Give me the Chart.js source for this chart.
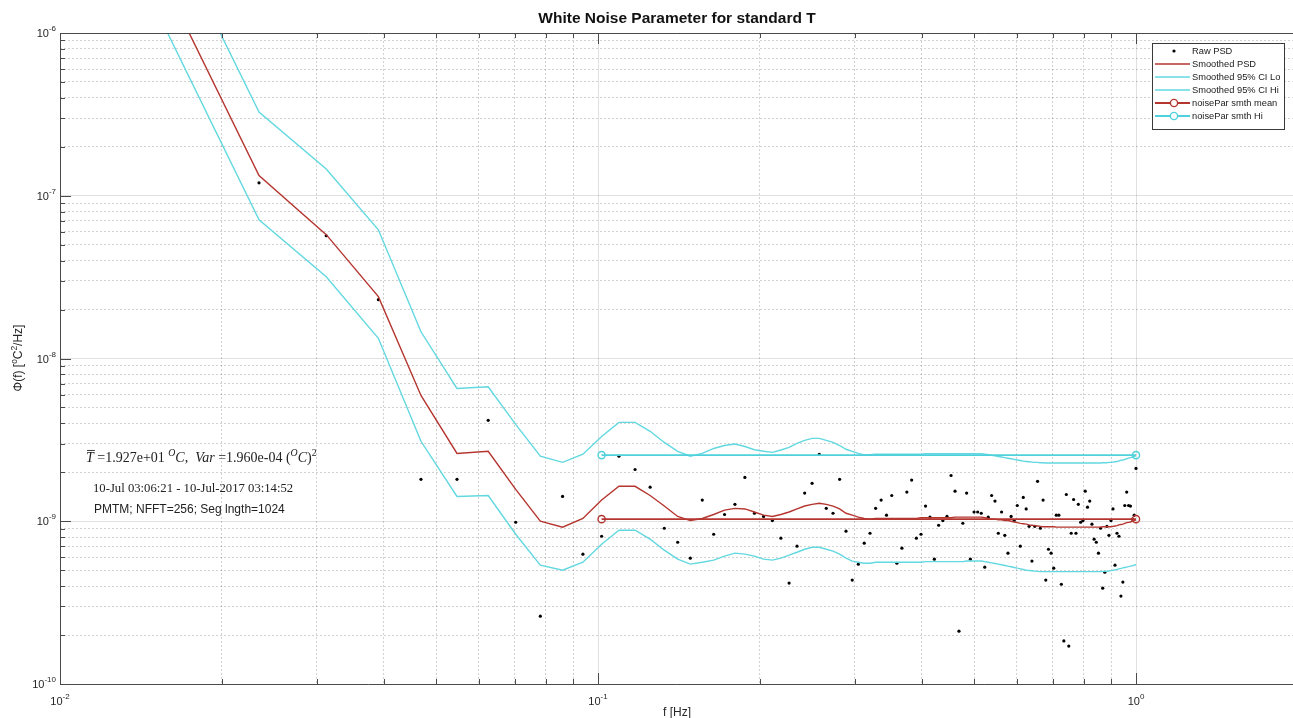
<!DOCTYPE html>
<html>
<head>
<meta charset="utf-8">
<title>White Noise Parameter for standard T</title>
<script src="https://cdn.jsdelivr.net/npm/chart.js@4.4.1/dist/chart.umd.min.js"></script>
<style>
  html, body { margin: 0; padding: 0; background: #fff; }
  #psd { display: block; }
</style>
</head>
<body>
<canvas id="psd" width="1293" height="718"></canvas>
<script>
// === psd plot ===
// PSD of temperature with smoothed estimate, 95% CI and white noise level

// frequency bins [Hz] (NFFT=256, bins 2..128)
const freqHz = [
  0.015625, 0.023438, 0.03125, 0.039063, 0.046875, 0.054688, 0.0625, 0.070313, 0.078125, 0.085938,
  0.09375, 0.10156, 0.10938, 0.11719, 0.125, 0.13281, 0.14063, 0.14844, 0.15625, 0.16406,
  0.17188, 0.17969, 0.1875, 0.19531, 0.20313, 0.21094, 0.21875, 0.22656, 0.23438, 0.24219,
  0.25, 0.25781, 0.26563, 0.27344, 0.28125, 0.28906, 0.29688, 0.30469, 0.3125, 0.32031,
  0.32813, 0.33594, 0.34375, 0.35156, 0.35938, 0.36719, 0.375, 0.38281, 0.39063, 0.39844,
  0.40625, 0.41406, 0.42188, 0.42969, 0.4375, 0.44531, 0.45313, 0.46094, 0.46875, 0.47656,
  0.48438, 0.49219, 0.5, 0.50781, 0.51563, 0.52344, 0.53125, 0.53906, 0.54688, 0.55469,
  0.5625, 0.57031, 0.57813, 0.58594, 0.59375, 0.60156, 0.60938, 0.61719, 0.625, 0.63281,
  0.64063, 0.64844, 0.65625, 0.66406, 0.67188, 0.67969, 0.6875, 0.69531, 0.70313, 0.71094,
  0.71875, 0.72656, 0.73438, 0.74219, 0.75, 0.75781, 0.76563, 0.77344, 0.78125, 0.78906,
  0.79688, 0.80469, 0.8125, 0.82031, 0.82813, 0.83594, 0.84375, 0.85156, 0.85938, 0.86719,
  0.875, 0.88281, 0.89063, 0.89844, 0.90625, 0.91406, 0.92188, 0.92969, 0.9375, 0.94531,
  0.95313, 0.96094, 0.96875, 0.97656, 0.98438, 0.99219, 1
];

// raw periodogram [degC^2/Hz]
const psdRaw = [
  null, 1.20e-7, 5.68e-8, 2.30e-8, 1.81e-9, 1.81e-9, 4.17e-9, 9.86e-10, 2.61e-10, 1.42e-9,
  6.28e-10, 8.09e-10, 2.51e-9, 2.08e-9, 1.62e-9, 9.06e-10, 7.43e-10, 5.93e-10, 1.35e-9, 8.32e-10,
  1.10e-9, 1.27e-9, 1.86e-9, 1.12e-9, 1.07e-9, 1.01e-9, 7.87e-10, 4.17e-10, 7.03e-10, 1.49e-9,
  1.71e-9, 2.58e-9, 1.20e-9, 1.12e-9, 1.81e-9, 8.69e-10, 4.35e-10, 5.45e-10, 7.33e-10, 8.44e-10,
  1.20e-9, 1.35e-9, 1.09e-9, 1.44e-9, 5.52e-10, 6.83e-10, 1.51e-9, 1.79e-9, 7.87e-10, 8.32e-10,
  1.24e-9, 1.06e-9, 5.85e-10, 9.45e-10, 1.01e-9, 1.07e-9, 1.91e-9, 1.53e-9, 2.11e-10, 9.72e-10,
  1.49e-9, 5.85e-10, 1.14e-9, 1.14e-9, 1.12e-9, 5.22e-10, 1.06e-9, 1.44e-9, 1.33e-9, 8.44e-10,
  1.14e-9, 8.20e-10, 6.37e-10, 1.07e-9, 1.01e-9, 1.25e-9, 7.03e-10, 1.40e-9, 1.19e-9, 9.31e-10,
  5.69e-10, 9.31e-10, 1.76e-9, 9.06e-10, 1.35e-9, 4.35e-10, 6.73e-10, 6.37e-10, 5.15e-10, 1.09e-9,
  1.09e-9, 4.10e-10, 1.84e-10, 1.46e-9, 1.71e-10, 8.44e-10, 1.36e-9, 8.44e-10, 1.27e-9, 9.86e-10,
  1.01e-9, 1.53e-9, 1.22e-9, 1.33e-9, 9.59e-10, 7.76e-10, 7.43e-10, 6.37e-10, 9.06e-10, 3.88e-10,
  4.86e-10, 9.31e-10, 8.20e-10, 1.01e-9, 1.19e-9, 5.37e-10, 8.44e-10, 8.09e-10, 3.47e-10, 4.23e-10,
  1.25e-9, 1.51e-9, 1.25e-9, 1.24e-9, 1.03e-9, 1.09e-9, 2.11e-9
];

// smoothed PSD
const psdSmooth = [
  2.05e-6, 1.33e-7, 5.77e-8, 2.40e-8, 5.93e-9, 2.61e-9, 2.69e-9, 1.57e-9, 1.00e-9, 9.2e-10,
  1.04e-9, 1.35e-9, 1.64e-9, 1.64e-9, 1.44e-9, 1.24e-9, 1.07e-9, 1.01e-9, 1.04e-9, 1.10e-9,
  1.17e-9, 1.20e-9, 1.19e-9, 1.14e-9, 1.09e-9, 1.07e-9, 1.10e-9, 1.14e-9, 1.19e-9, 1.24e-9,
  1.27e-9, 1.29e-9, 1.27e-9, 1.24e-9, 1.19e-9, 1.12e-9, 1.09e-9, 1.06e-9, 1.04e-9, 1.03e-9,
  1.04e-9, 1.04e-9, 1.04e-9, 1.04e-9, 1.04e-9, 1.04e-9, 1.04e-9, 1.04e-9, 1.04e-9, 1.05e-9,
  1.05e-9, 1.05e-9, 1.05e-9, 1.05e-9, 1.05e-9, 1.05e-9, 1.05e-9, 1.06e-9, 1.06e-9, 1.06e-9,
  1.06e-9, 1.06e-9, 1.06e-9, 1.06e-9, 1.06e-9, 1.05e-9, 1.04e-9, 1.03e-9, 1.03e-9, 1.02e-9,
  1.02e-9, 1.01e-9, 1.01e-9, 1.00e-9, 9.9e-10, 9.8e-10, 9.7e-10, 9.65e-10, 9.6e-10, 9.5e-10,
  9.45e-10, 9.4e-10, 9.35e-10, 9.3e-10, 9.25e-10, 9.25e-10, 9.25e-10, 9.25e-10, 9.25e-10, 9.2e-10,
  9.2e-10, 9.2e-10, 9.2e-10, 9.2e-10, 9.2e-10, 9.2e-10, 9.2e-10, 9.2e-10, 9.2e-10, 9.2e-10,
  9.2e-10, 9.2e-10, 9.2e-10, 9.2e-10, 9.2e-10, 9.2e-10, 9.2e-10, 9.2e-10, 9.2e-10, 9.25e-10,
  9.25e-10, 9.25e-10, 9.25e-10, 9.25e-10, 9.3e-10, 9.35e-10, 9.4e-10, 9.5e-10, 9.55e-10, 9.6e-10,
  9.7e-10, 9.8e-10, 9.85e-10, 9.9e-10, 1.00e-9, 1.01e-9, 1.02e-9
];

// smoothed 95% confidence interval, lower bound
const ciLo = [
  1.1e-6, 7.12e-8, 3.18e-8, 1.33e-8, 3.10e-9, 1.42e-9, 1.44e-9, 8.32e-10, 5.37e-10, 5.00e-10,
  5.60e-10, 7.23e-10, 8.81e-10, 8.81e-10, 7.76e-10, 6.64e-10, 5.85e-10, 5.45e-10, 5.60e-10, 5.77e-10,
  6.10e-10, 6.37e-10, 6.28e-10, 6.10e-10, 5.85e-10, 5.77e-10, 5.93e-10, 6.19e-10, 6.45e-10, 6.73e-10,
  6.92e-10, 6.92e-10, 6.73e-10, 6.55e-10, 6.28e-10, 5.93e-10, 5.69e-10, 5.60e-10, 5.52e-10, 5.52e-10,
  5.6e-10, 5.6e-10, 5.6e-10, 5.6e-10, 5.6e-10, 5.6e-10, 5.6e-10, 5.6e-10, 5.6e-10, 5.6e-10,
  5.65e-10, 5.65e-10, 5.65e-10, 5.65e-10, 5.65e-10, 5.65e-10, 5.65e-10, 5.65e-10, 5.65e-10, 5.65e-10,
  5.7e-10, 5.7e-10, 5.7e-10, 5.7e-10, 5.7e-10, 5.65e-10, 5.6e-10, 5.55e-10, 5.5e-10, 5.45e-10,
  5.4e-10, 5.35e-10, 5.3e-10, 5.25e-10, 5.2e-10, 5.15e-10, 5.1e-10, 5.05e-10, 5.0e-10, 4.98e-10,
  4.96e-10, 4.94e-10, 4.92e-10, 4.9e-10, 4.9e-10, 4.9e-10, 4.9e-10, 4.9e-10, 4.9e-10, 4.9e-10,
  4.9e-10, 4.9e-10, 4.9e-10, 4.9e-10, 4.9e-10, 4.9e-10, 4.9e-10, 4.9e-10, 4.9e-10, 4.9e-10,
  4.9e-10, 4.9e-10, 4.9e-10, 4.9e-10, 4.9e-10, 4.9e-10, 4.9e-10, 4.9e-10, 4.9e-10, 4.92e-10,
  4.92e-10, 4.93e-10, 4.95e-10, 4.97e-10, 5.0e-10, 5.03e-10, 5.06e-10, 5.1e-10, 5.13e-10, 5.17e-10,
  5.2e-10, 5.23e-10, 5.26e-10, 5.3e-10, 5.33e-10, 5.37e-10, 5.4e-10
];

// smoothed 95% confidence interval, upper bound
const ciHi = [
  5.0e-6, 3.27e-7, 1.46e-7, 6.18e-8, 1.46e-8, 6.55e-9, 6.70e-9, 3.94e-9, 2.51e-9, 2.30e-9,
  2.58e-9, 3.32e-9, 4.05e-9, 4.05e-9, 3.57e-9, 3.05e-9, 2.69e-9, 2.51e-9, 2.61e-9, 2.80e-9,
  2.92e-9, 2.98e-9, 2.88e-9, 2.75e-9, 2.69e-9, 2.65e-9, 2.74e-9, 2.84e-9, 3.01e-9, 3.14e-9,
  3.23e-9, 3.23e-9, 3.14e-9, 3.05e-9, 2.92e-9, 2.77e-9, 2.69e-9, 2.61e-9, 2.56e-9, 2.56e-9,
  2.58e-9, 2.58e-9, 2.58e-9, 2.58e-9, 2.58e-9, 2.58e-9, 2.58e-9, 2.58e-9, 2.58e-9, 2.58e-9,
  2.6e-9, 2.6e-9, 2.6e-9, 2.6e-9, 2.6e-9, 2.6e-9, 2.6e-9, 2.6e-9, 2.6e-9, 2.6e-9,
  2.6e-9, 2.6e-9, 2.6e-9, 2.6e-9, 2.6e-9, 2.58e-9, 2.56e-9, 2.54e-9, 2.52e-9, 2.50e-9,
  2.48e-9, 2.46e-9, 2.44e-9, 2.42e-9, 2.40e-9, 2.38e-9, 2.36e-9, 2.34e-9, 2.33e-9, 2.32e-9,
  2.31e-9, 2.30e-9, 2.30e-9, 2.29e-9, 2.29e-9, 2.28e-9, 2.28e-9, 2.28e-9, 2.28e-9, 2.28e-9,
  2.28e-9, 2.28e-9, 2.28e-9, 2.28e-9, 2.28e-9, 2.28e-9, 2.28e-9, 2.28e-9, 2.28e-9, 2.28e-9,
  2.28e-9, 2.28e-9, 2.28e-9, 2.28e-9, 2.28e-9, 2.28e-9, 2.28e-9, 2.28e-9, 2.28e-9, 2.29e-9,
  2.29e-9, 2.29e-9, 2.30e-9, 2.30e-9, 2.31e-9, 2.32e-9, 2.33e-9, 2.35e-9, 2.37e-9, 2.38e-9,
  2.40e-9, 2.42e-9, 2.44e-9, 2.46e-9, 2.48e-9, 2.50e-9, 2.53e-9
];

// white noise parameter over the 0.1 - 1 Hz band
const noiseBand = [0.10156, 1];
const noiseMean = [1.03e-9, 1.03e-9];
const noiseHi = [2.55e-9, 2.55e-9];

// axis decades (exponents) and minor steps inside each decade
const xDecades = [-2, -1, 0];
const yDecades = [-10, -9, -8, -7, -6];
const minorSteps = [2, 3, 4, 5, 6, 7, 8, 9];
const X_MIN = 0.01, X_MAX = 1.958;
const Y_MIN = 1e-10, Y_MAX = 1e-6;

const titleText = 'White Noise Parameter for standard T';
const xTitle = 'f [Hz]';
const dateText = '10-Jul 03:06:21 - 10-Jul-2017 03:14:52';
const methodText = 'PMTM; NFFT=256; Seg lngth=1024';

const RED = '#b5352f';
const CYAN = '#62d8e0';
const CYAN_DARK = '#4fd1dc';
const SANS = "'Liberation Sans', Arial, Helvetica, sans-serif";
const SERIF = "'Liberation Serif', 'Times New Roman', serif";

// Função para montar pares {x, y}, pulando valores vazios
function toPoints(xs, ys) {
    const pts = [];
    xs.forEach((x, i) => {
        if (ys[i] !== null && ys[i] !== undefined) pts.push({ x: x, y: ys[i] });
    });
    return pts;
}

// log ticks: decades as major, 2..9 as minor
function buildLogTicks(decades, min, max) {
    const ticks = [];
    decades.forEach(e => {
        const base = Math.pow(10, e);
        ticks.push({ value: base, major: true });
        minorSteps.forEach(m => ticks.push({ value: m * base, major: false }));
    });
    return ticks.filter(t => t.value >= min * 0.9999 && t.value <= max * 1.0001);
}

const gridColor = ctx => (ctx.tick && ctx.tick.major) ? 'rgba(0,0,0,0.12)' : 'rgba(0,0,0,0.18)';
const gridDash = ctx => (ctx.tick && ctx.tick.major) ? [] : [2, 2];

// draws "10" with a raised exponent
function drawPower(ctx, exp, x, y, align) {
    ctx.font = '11px ' + SANS;
    const wb = ctx.measureText('10').width;
    ctx.font = '8px ' + SANS;
    const we = ctx.measureText(exp).width;
    const total = wb + we;
    const x0 = align === 'right' ? x - total : x - total / 2;
    ctx.textAlign = 'left';
    ctx.textBaseline = 'alphabetic';
    ctx.font = '11px ' + SANS;
    ctx.fillText('10', x0, y + 4);
    ctx.font = '8px ' + SANS;
    ctx.fillText(exp, x0 + wb, y - 2);
}

// text runs with italics, superscripts and overbar
function drawRich(ctx, parts, x, y, size, family) {
    let cx = x;
    ctx.textAlign = 'left';
    ctx.textBaseline = 'alphabetic';
    parts.forEach(p => {
        const fs = p.sup ? size * 0.7 : size;
        ctx.font = (p.it ? 'italic ' : '') + fs + 'px ' + family;
        const dy = p.sup ? -size * 0.45 : 0;
        ctx.fillText(p.t, cx, y + dy);
        const w = ctx.measureText(p.t).width;
        if (p.bar) {
            ctx.fillRect(cx + 1, y - size * 0.86, w, 0.9);
        }
        cx += w;
    });
    return cx;
}

// legend box in the upper right corner
function drawLegend(ctx, chart) {
    const box = { x: 1152, y: 43, w: 132, h: 86 };
    ctx.fillStyle = '#fff';
    ctx.fillRect(box.x, box.y, box.w, box.h);
    ctx.strokeStyle = '#3a3a3a';
    ctx.lineWidth = 1;
    ctx.strokeRect(box.x + 0.5, box.y + 0.5, box.w, box.h);

    chart.data.datasets.forEach((ds, i) => {
        const cy = box.y + 8 + i * 13;
        if (ds.showLine) {
            ctx.strokeStyle = ds.borderColor;
            ctx.lineWidth = ds.borderWidth;
            ctx.beginPath();
            ctx.moveTo(box.x + 3, cy);
            ctx.lineTo(box.x + 38, cy);
            ctx.stroke();
        }
        if (ds.pointRadius > 0) {
            ctx.beginPath();
            ctx.arc(box.x + 22, cy, ds.pointRadius, 0, Math.PI * 2);
            if (ds.showLine) {
                ctx.fillStyle = '#fff';
                ctx.fill();
                ctx.strokeStyle = ds.pointBorderColor;
                ctx.lineWidth = ds.pointBorderWidth;
                ctx.stroke();
            } else {
                ctx.fillStyle = ds.pointBackgroundColor;
                ctx.fill();
            }
        }
        ctx.fillStyle = '#1a1a1a';
        ctx.font = '9.3px ' + SANS;
        ctx.textAlign = 'left';
        ctx.textBaseline = 'middle';
        ctx.fillText(ds.label, box.x + 40, cy + 0.5);
    });
}

// frame, inner ticks, labels, notes and legend
const axesDecor = {
    id: 'axesDecor',
    afterDraw(chart) {
        const { ctx, chartArea: a, scales: { x, y } } = chart;
        ctx.save();

        // axis box (left, top, bottom)
        ctx.strokeStyle = '#4a4a4a';
        ctx.lineWidth = 1;
        ctx.beginPath();
        ctx.moveTo(a.right, a.top + 0.5);
        ctx.lineTo(a.left + 0.5, a.top + 0.5);
        ctx.lineTo(a.left + 0.5, a.bottom + 0.5);
        ctx.lineTo(a.right, a.bottom + 0.5);
        ctx.stroke();

        // inward ticks
        ctx.beginPath();
        x.ticks.forEach(t => {
            const px = Math.round(x.getPixelForValue(t.value)) + 0.5;
            const len = t.major ? 11 : 5;
            ctx.moveTo(px, a.bottom);
            ctx.lineTo(px, a.bottom - len);
            ctx.moveTo(px, a.top);
            ctx.lineTo(px, a.top + len);
        });
        y.ticks.forEach(t => {
            const py = Math.round(y.getPixelForValue(t.value)) + 0.5;
            const len = t.major ? 11 : 5;
            ctx.moveTo(a.left, py);
            ctx.lineTo(a.left + len, py);
        });
        ctx.stroke();

        // tick labels
        ctx.fillStyle = '#262626';
        x.ticks.filter(t => t.major).forEach(t => {
            const exp = String(Math.round(Math.log10(t.value)));
            drawPower(ctx, exp, x.getPixelForValue(t.value), a.bottom + 17, 'center');
        });
        y.ticks.filter(t => t.major).forEach(t => {
            const exp = String(Math.round(Math.log10(t.value)));
            drawPower(ctx, exp, a.left - 4, y.getPixelForValue(t.value), 'right');
        });

        // axis titles
        ctx.fillStyle = '#262626';
        ctx.font = '12px ' + SANS;
        ctx.textAlign = 'center';
        ctx.textBaseline = 'alphabetic';
        ctx.fillText(xTitle, 677, 716);

        ctx.save();
        ctx.translate(22, 358);
        ctx.rotate(-Math.PI / 2);
        const yParts = [{ t: '\u03A6(f) [' }, { t: 'o', sup: true }, { t: 'C' }, { t: '2', sup: true }, { t: '/Hz]' }];
        let wy = 0;
        yParts.forEach(p => {
            ctx.font = (p.sup ? 8.4 : 12) + 'px ' + SANS;
            wy += ctx.measureText(p.t).width;
        });
        drawRich(ctx, yParts, -wy / 2, 0, 12, SANS);
        ctx.restore();

        // title
        ctx.fillStyle = '#111';
        ctx.font = 'bold 15.5px ' + SANS;
        ctx.textAlign = 'center';
        ctx.fillText(titleText, 677, 23);

        // statistics notes
        ctx.fillStyle = '#222';
        drawRich(ctx, [
            { t: 'T', it: true, bar: true }, { t: ' =1.927e+01 ' },
            { t: 'O', it: true, sup: true }, { t: 'C', it: true }, { t: ',  ' },
            { t: 'Var', it: true }, { t: ' =1.960e-04 (' },
            { t: 'O', it: true, sup: true }, { t: 'C', it: true }, { t: ')' },
            { t: '2', sup: true }
        ], 86, 462, 14, SERIF);

        ctx.font = '12.7px ' + SERIF;
        ctx.textAlign = 'left';
        ctx.fillText(dateText, 93, 492);
        ctx.font = '12px ' + SANS;
        ctx.fillText(methodText, 94, 513);

        drawLegend(ctx, chart);
        ctx.restore();
    }
};

// Função para criar o gráfico da PSD
function createPsdChart() {
    const ctx = document.getElementById('psd');
    window.psdChart = new Chart(ctx, {
        type: 'scatter',
        data: {
            datasets: [{
                label: 'Raw PSD',
                data: toPoints(freqHz, psdRaw),
                showLine: false,
                pointRadius: 1.6,
                pointBackgroundColor: '#000',
                pointBorderWidth: 0,
                order: 6
            }, {
                label: 'Smoothed PSD',
                data: toPoints(freqHz, psdSmooth),
                showLine: true,
                borderColor: RED,
                borderWidth: 1.4,
                pointRadius: 0,
                clip: 0,
                order: 5
            }, {
                label: 'Smoothed 95% CI Lo',
                data: toPoints(freqHz, ciLo),
                showLine: true,
                borderColor: CYAN,
                borderWidth: 1.4,
                pointRadius: 0,
                clip: 0,
                order: 4
            }, {
                label: 'Smoothed 95% CI Hi',
                data: toPoints(freqHz, ciHi),
                showLine: true,
                borderColor: CYAN,
                borderWidth: 1.4,
                pointRadius: 0,
                clip: 0,
                order: 3
            }, {
                label: 'noisePar smth mean',
                data: toPoints(noiseBand, noiseMean),
                showLine: true,
                borderColor: RED,
                borderWidth: 1.8,
                pointRadius: 3.6,
                pointBorderColor: RED,
                pointBorderWidth: 1.4,
                pointBackgroundColor: 'rgba(255,255,255,0)',
                order: 2
            }, {
                label: 'noisePar smth Hi',
                data: toPoints(noiseBand, noiseHi),
                showLine: true,
                borderColor: CYAN_DARK,
                borderWidth: 1.8,
                pointRadius: 3.6,
                pointBorderColor: CYAN_DARK,
                pointBorderWidth: 1.4,
                pointBackgroundColor: 'rgba(255,255,255,0)',
                order: 1
            }]
        },
        options: {
            responsive: false,
            animation: false,
            devicePixelRatio: 1,
            layout: { autoPadding: false, padding: { left: 60, top: 33, right: 0, bottom: 34 } },
            plugins: {
                legend: { display: false },
                title: { display: false },
                tooltip: { enabled: false }
            },
            scales: {
                x: {
                    type: 'logarithmic',
                    min: X_MIN,
                    max: X_MAX,
                    afterBuildTicks: axis => { axis.ticks = buildLogTicks(xDecades, X_MIN, X_MAX); },
                    ticks: { display: false },
                    grid: { drawTicks: false, color: gridColor, lineWidth: 1 },
                    border: { display: false, dash: gridDash }
                },
                y: {
                    type: 'logarithmic',
                    min: Y_MIN,
                    max: Y_MAX,
                    afterBuildTicks: axis => { axis.ticks = buildLogTicks(yDecades, Y_MIN, Y_MAX); },
                    ticks: { display: false },
                    grid: { drawTicks: false, color: gridColor, lineWidth: 1 },
                    border: { display: false, dash: gridDash }
                }
            }
        },
        plugins: [axesDecor]
    });
}

createPsdChart();
</script>
</body>
</html>
